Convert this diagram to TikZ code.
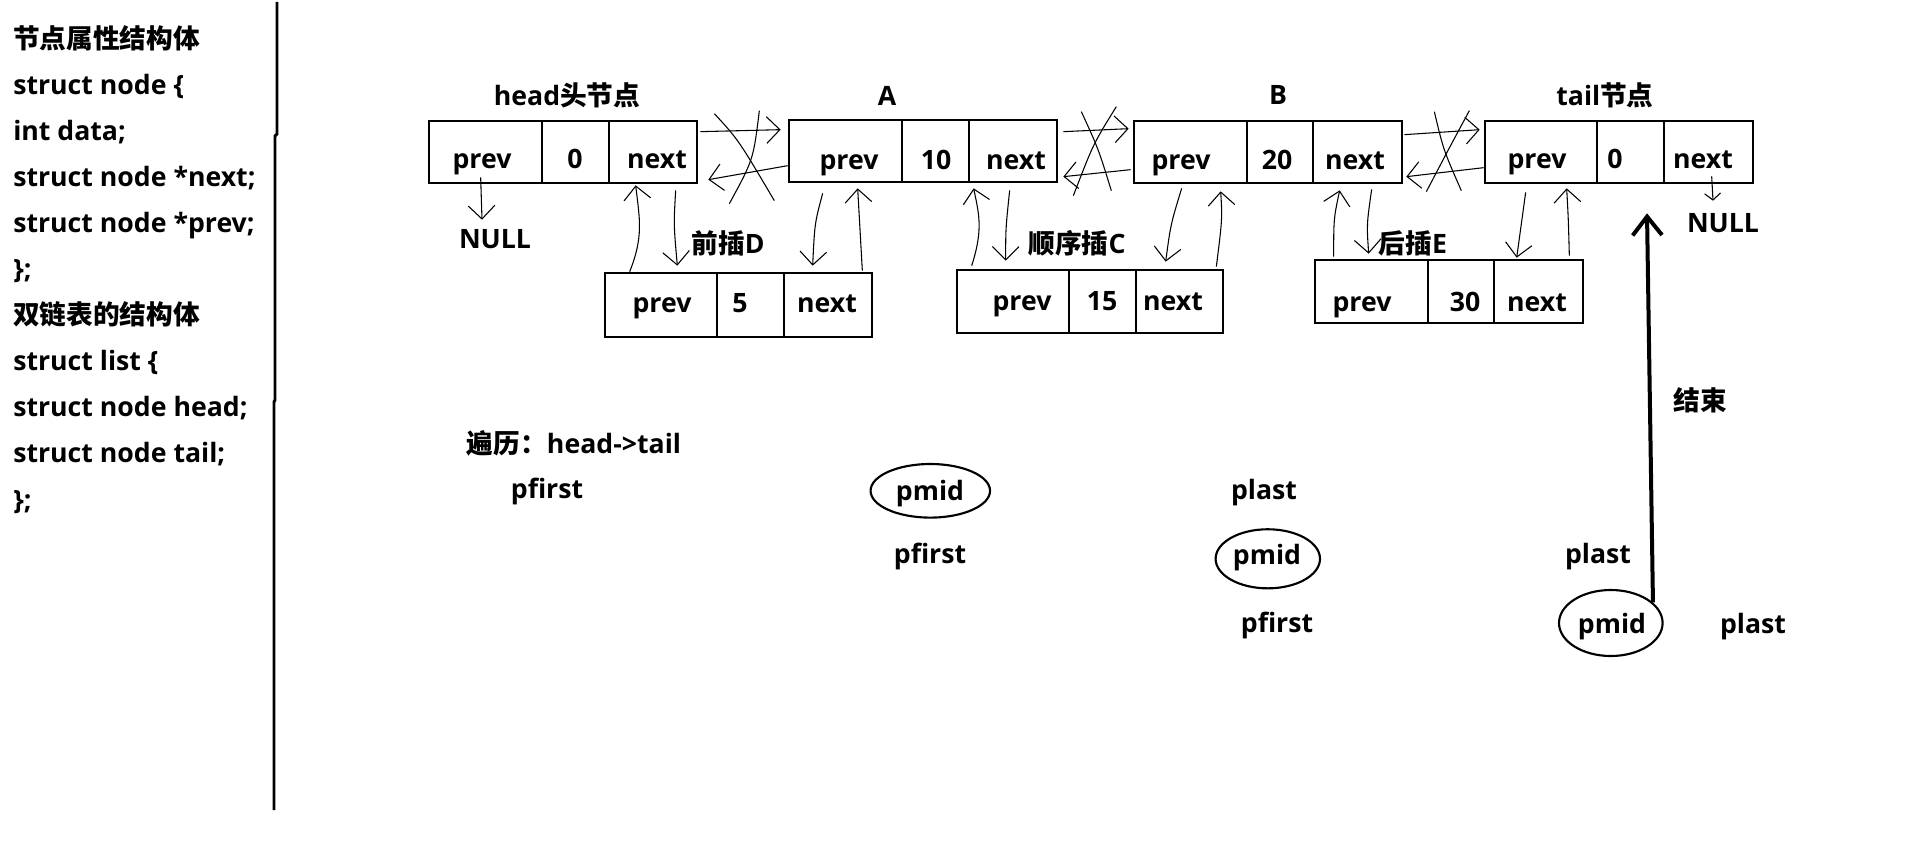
\documentclass[tikz,border=0pt]{standalone}
\usepackage{fontspec}
\setmainfont{Open Sans}
\newfontfamily\cjk{Noto Sans CJK SC}
\usetikzlibrary{arrows.meta,fit,shapes.geometric,calc}
\begin{document}
\begin{tikzpicture}[x=0.75pt,y=-0.75pt,
  font=\fontsize{20}{24}\selectfont\bfseries,
  box/.style={draw, line width=2pt, inner sep=0pt},
  lbl/.style={anchor=base, inner sep=0pt},
  lft/.style={anchor=base west, inner sep=0pt},
  hand/.style={line width=0.8pt, -{Straight Barb[length=10pt,width=20pt]}},
  smallhand/.style={line width=0.8pt, -{Straight Barb[length=5pt,width=12pt]}},
  xmark/.style={line width=0.8pt},
  pm/.style={ellipse, draw, line width=1.6pt, inner sep=0pt},
  bigarrow/.style={line width=3pt, -{Straight Barb[length=14pt,width=22pt]}}]
\useasboundingbox (0,0) rectangle (1913,856);

% left column
\node[lft] (l1) at (13,48.5) {{\cjk 节点属性结构体}};
\node[lft] (l2) at (13,94.5) {struct node \{};
\node[lft] (l3) at (13,140.5) {int data;};
\node[lft] (l4) at (13,186.5) {struct node *next;};
\node[lft] (l5) at (13,232.5) {struct node *prev;};
\node[lft] (l6) at (13,278.5) {\};};
\node[lft] (l7) at (13,324.5) {{\cjk 双链表的结构体}};
\node[lft] (l8) at (13,370.5) {struct list \{};
\node[lft] (l9) at (13,416.5) {struct node head;};
\node[lft] (l10) at (13,462.5) {struct node tail;};
\node[lft] (l11) at (13,509) {\};};
\draw[line width=2.2pt] (277,2) -- (277,134) -- (275,136) -- (275,400) -- (274,402) -- (274,810);

% top boxes
\node[box, fit={(429,121) (542,183)}] (h1) {};
\node[box, fit={(542,121) (609,183)}] (h2) {};
\node[box, fit={(609,121) (697,183)}] (h3) {};
\node[box, fit={(789,120) (902,182)}] (a1) {};
\node[box, fit={(902,120) (969,182)}] (a2) {};
\node[box, fit={(969,120) (1057,182)}] (a3) {};
\node[box, fit={(1134,121) (1247,183)}] (b1) {};
\node[box, fit={(1247,121) (1313,183)}] (b2) {};
\node[box, fit={(1313,121) (1402,183)}] (b3) {};
\node[box, fit={(1485,121) (1597,183)}] (t1) {};
\node[box, fit={(1597,121) (1664,183)}] (t2) {};
\node[box, fit={(1664,121) (1753,183)}] (t3) {};
% inserted boxes
\node[box, fit={(605,273) (717,337)}] (d1) {};
\node[box, fit={(717,273) (784,337)}] (d2) {};
\node[box, fit={(784,273) (872,337)}] (d3) {};
\node[box, fit={(957,270) (1069,333)}] (c1) {};
\node[box, fit={(1069,270) (1136,333)}] (c2) {};
\node[box, fit={(1136,270) (1223,333)}] (c3) {};
\node[box, fit={(1315,260) (1428,323)}] (e1) {};
\node[box, fit={(1428,260) (1494,323)}] (e2) {};
\node[box, fit={(1494,260) (1583,323)}] (e3) {};

% cell texts
\node[lbl] (h1t) at (482,168) {prev};
\node[lbl] (h2t) at (575,168) {0};
\node[lbl] (h3t) at (657,168) {next};
\node[lbl] (a1t) at (849,169) {prev};
\node[lbl] (a2t) at (936,169) {10};
\node[lbl] (a3t) at (1016,169) {next};
\node[lbl] (b1t) at (1181,169) {prev};
\node[lbl] (b2t) at (1277,169) {20};
\node[lbl] (b3t) at (1355,169) {next};
\node[lbl] (t1t) at (1537,168) {prev};
\node[lbl] (t2t) at (1615,168) {0};
\node[lbl] (t3t) at (1703,168) {next};
\node[lbl] (d1t) at (662,312) {prev};
\node[lbl] (d2t) at (740,312) {5};
\node[lbl] (d3t) at (827,312) {next};
\node[lbl] (c1t) at (1022,310) {prev};
\node[lbl] (c2t) at (1102,310) {15};
\node[lbl] (c3t) at (1173,310) {next};
\node[lbl] (e1t) at (1362,311) {prev};
\node[lbl] (e2t) at (1465,311) {30};
\node[lbl] (e3t) at (1537,311) {next};

% titles
\node[lbl] (headlbl) at (567,105) {head{\cjk 头节点}};
\node[lbl] (albl) at (887,105) {A};
\node[lbl] (blbl) at (1278,104) {B};
\node[lbl] (taillbl) at (1605,105) {tail{\cjk 节点}};
\node[lbl] (dlbl) at (728,253) {{\cjk 前插}D};
\node[lbl] (clbl) at (1077,253) {{\cjk 顺序插}C};
\node[lbl] (elbl) at (1413,253) {{\cjk 后插}E};
\node[lbl] (null1) at (495,248) {NULL};
\node[lbl] (null2) at (1723,232) {NULL};

% traversal
\node[lbl] (trav) at (574,453) {{\cjk 遍历：}head->tail};
\node[lbl] (pf1) at (547,498) {pfirst};
\node[pm, minimum width=89.6pt, minimum height=40.2pt] (pm1) at (930.3,490.8) {};
\node[lbl] (pm1t) at (930,500) {pmid};
\node[lbl] (pf2) at (930,563) {pfirst};
\node[lbl] (pl1) at (1264,499) {plast};
\node[pm, minimum width=78.3pt, minimum height=44.3pt] (pm2) at (1267.8,558.8) {};
\node[lbl] (pm2t) at (1267,564) {pmid};
\node[lbl] (pf3) at (1277,632.7) {pfirst};
\node[lbl] (pl2) at (1598,563) {plast};
\node[pm, minimum width=77.7pt, minimum height=49.5pt] (pm3) at (1610.8,623) {};
\node[lbl] (pm3t) at (1612,633) {pmid};
\node[lbl] (pl3) at (1753,633) {plast};
\node[lbl] (endlbl) at (1700,410) {{\cjk 结束}};

\draw[bigarrow] (pm3.26) -- ($(t2.south)+(16.5,29)$);

% head <-> A (crossed out)
\draw[hand] ($(h3.north east)+(2,12)$) -- ($(a1.north west)+(-7,11)$);
\draw[hand] ($(a1.north west)+(0,47)$) -- ($(h3.north east)+(10,60)$);
\draw[xmark] ($(h3.north east)+(16,-6)$) .. controls ($(h3.north east)+(40,20)$) .. ($(h3.north east)+(76,81)$);
\draw[xmark] ($(h3.north east)+(61,-9)$) .. controls ($(h3.north east)+(55,40)$) .. ($(h3.north east)+(31,84)$);
% A <-> B (crossed out)
\draw[hand] ($(a3.north east)+(5,13)$) -- ($(b1.north west)+(-4,9)$);
\draw[hand] ($(b1.north west)+(-2,50)$) -- ($(a3.north east)+(5,58)$);
\draw[xmark] ($(a3.north east)+(23,-7)$) .. controls ($(a3.north east)+(40,30)$) .. ($(a3.north east)+(53,72)$);
\draw[xmark] ($(a3.north east)+(58,-12)$) .. controls ($(a3.north east)+(35,25)$) .. ($(a3.north east)+(15,77)$);
% B <-> tail (crossed out)
\draw[hand] ($(b3.north east)+(1,15)$) -- ($(t1.north west)+(-4,10)$);
\draw[hand] ($(t1.north west)+(0,48)$) -- ($(b3.north east)+(3,57)$);
\draw[xmark] ($(b3.north east)+(31,-8)$) .. controls ($(b3.north east)+(40,30)$) .. ($(b3.north east)+(58,71)$);
\draw[xmark] ($(b3.north east)+(66,-9)$) .. controls ($(b3.north east)+(45,30)$) .. ($(b3.north east)+(23,72)$);

% head <-> D
\draw[hand] ($(d1.north west)+(26,0)$) .. controls ($(d1.north west)+(40,-35)$) and ($(h3.south west)+(32,35)$) .. ($(h3.south west)+(28,1)$);
\draw[hand] ($(h3.south west)+(68,6)$) .. controls ($(h3.south west)+(66,40)$) .. ($(d1.north east)+(-41,-6)$);
% A <-> D
\draw[hand] ($(a1.south west)+(35,10)$) .. controls ($(a1.south west)+(27,40)$) .. ($(d3.north west)+(30,-6)$);
\draw[hand] ($(d3.north east)+(-11,-1)$) -- ($(a1.south west)+(70,5)$);
% A <-> C
\draw[hand] ($(c1.north west)+(16,-3)$) .. controls ($(c1.north west)+(28,-40)$) and ($(a3.south west)+(11,30)$) .. ($(a3.south west)+(6,5)$);
\draw[hand] ($(a3.south west)+(42,7)$) .. controls ($(a3.south west)+(38,45)$) .. ($(c1.north west)+(50,-8)$);
% B <-> C
\draw[hand] ($(b1.south west)+(49,4)$) .. controls ($(b1.south west)+(38,40)$) .. ($(c3.north west)+(31,-7)$);
\draw[hand] ($(c3.north east)+(-8,-2)$) .. controls ($(c3.north east)+(-2,-50)$) .. ($(b1.south west)+(88,7)$);
% B <-> E
\draw[hand] ($(e1.north west)+(20,-2)$) .. controls ($(e1.north west)+(20,-40)$) .. ($(b3.south west)+(28,6)$);
\draw[hand] ($(b3.south west)+(60,5)$) .. controls ($(b3.south west)+(55,40)$) .. ($(e1.north west)+(55,-5)$);
% tail <-> E
\draw[hand] ($(t1.south west)+(42,8)$) .. controls ($(t1.south west)+(38,40)$) .. ($(e3.north west)+(24,-1)$);
\draw[hand] ($(e3.north east)+(-15,-3)$) .. controls ($(e3.north east)+(-16,-40)$) .. ($(t1.south west)+(83,4)$);
% NULL pointers
\draw[hand] ($(h1.south west)+(53,-7)$) -- ($(null1.north)+(-13,-9)$);
\draw[smallhand] ($(t3.south west)+(49,-8)$) -- ($(null2.north)+(-10,-12)$);
\end{tikzpicture}
\end{document}
